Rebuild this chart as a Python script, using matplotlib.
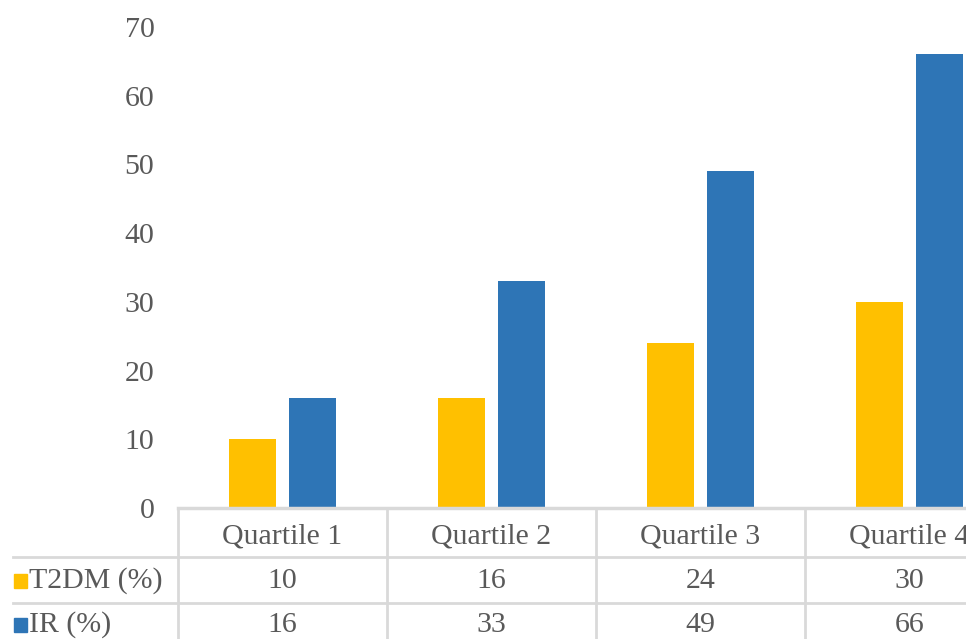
import matplotlib.pyplot as plt
import matplotlib.transforms as mtransforms
import numpy as np

categories = ["Quartile 1", "Quartile 2", "Quartile 3", "Quartile 4"]
series_names = ["T2DM (%)", "IR (%)"]
t2dm = [10, 16, 24, 30]
ir = [16, 33, 49, 66]
yticks = [0, 10, 20, 30, 40, 50, 60, 70]

yellow = "#FFC000"
blue = "#2E75B6"
grid_col = "#D9D9D9"
txt_col = "#595959"
fs = 21.5

W, H = 966, 639
fig = plt.figure(figsize=(W / 100, H / 100), dpi=100)
plt.rcParams["font.family"] = ["Liberation Serif", "DejaVu Serif"]

# axes runs past the right edge, like the cropped original
left_px, right_px, top_px, bottom_px = 178, 178 + 4 * 209, 27, 508
ax = fig.add_axes([left_px / W, 1 - bottom_px / H,
                   (right_px - left_px) / W, (bottom_px - top_px) / H])

x = np.arange(len(categories))
bw = 0.225
off = 0.143
ax.bar(x - off, t2dm, bw, color=yellow)
ax.bar(x + off, ir, bw, color=blue)

ax.set_xlim(-0.5, len(categories) - 0.5)
ax.set_ylim(0, 70)
ax.set_yticks(yticks)
ax.set_xticks([])
ax.tick_params(axis="y", length=0, pad=17, labelsize=fs, labelcolor=txt_col)
for s in ["top", "right", "left"]:
    ax.spines[s].set_visible(False)
ax.spines["bottom"].set_color(grid_col)
ax.spines["bottom"].set_linewidth(2.5)

# data table under the plot
tr = mtransforms.blended_transform_factory(ax.transData, fig.transFigure)

def fy(py):
    return 1 - py / H

row_lines = [557, 603]
for py in row_lines:
    fig.add_artist(plt.Line2D([13 / W, 1], [fy(py), fy(py)], color=grid_col, lw=2,
                              transform=fig.transFigure))
for b in np.arange(-0.5, len(categories), 1.0):
    ax.plot([b, b], [fy(bottom_px), 0], color=grid_col, lw=2, transform=tr,
            clip_on=False)

for i, c in enumerate(categories):
    ax.text(i, fy(536), c, transform=tr, ha="center", va="center",
            fontsize=fs, color=txt_col, clip_on=False)
    ax.text(i, fy(581), str(t2dm[i]), transform=tr, ha="center", va="center",
            fontsize=fs, color=txt_col, clip_on=False)
    ax.text(i, fy(625), str(ir[i]), transform=tr, ha="center", va="center",
            fontsize=fs, color=txt_col, clip_on=False)

for name, col, py in zip(series_names, [yellow, blue], [581, 625]):
    fig.add_artist(plt.Rectangle((14 / W, fy(py + 7)), 13 / W, 14 / H,
                                 color=col, transform=fig.transFigure))
    fig.text(29 / W, fy(py), name, ha="left", va="center", fontsize=fs,
             color=txt_col)

fig.savefig("out.png", dpi=100)
